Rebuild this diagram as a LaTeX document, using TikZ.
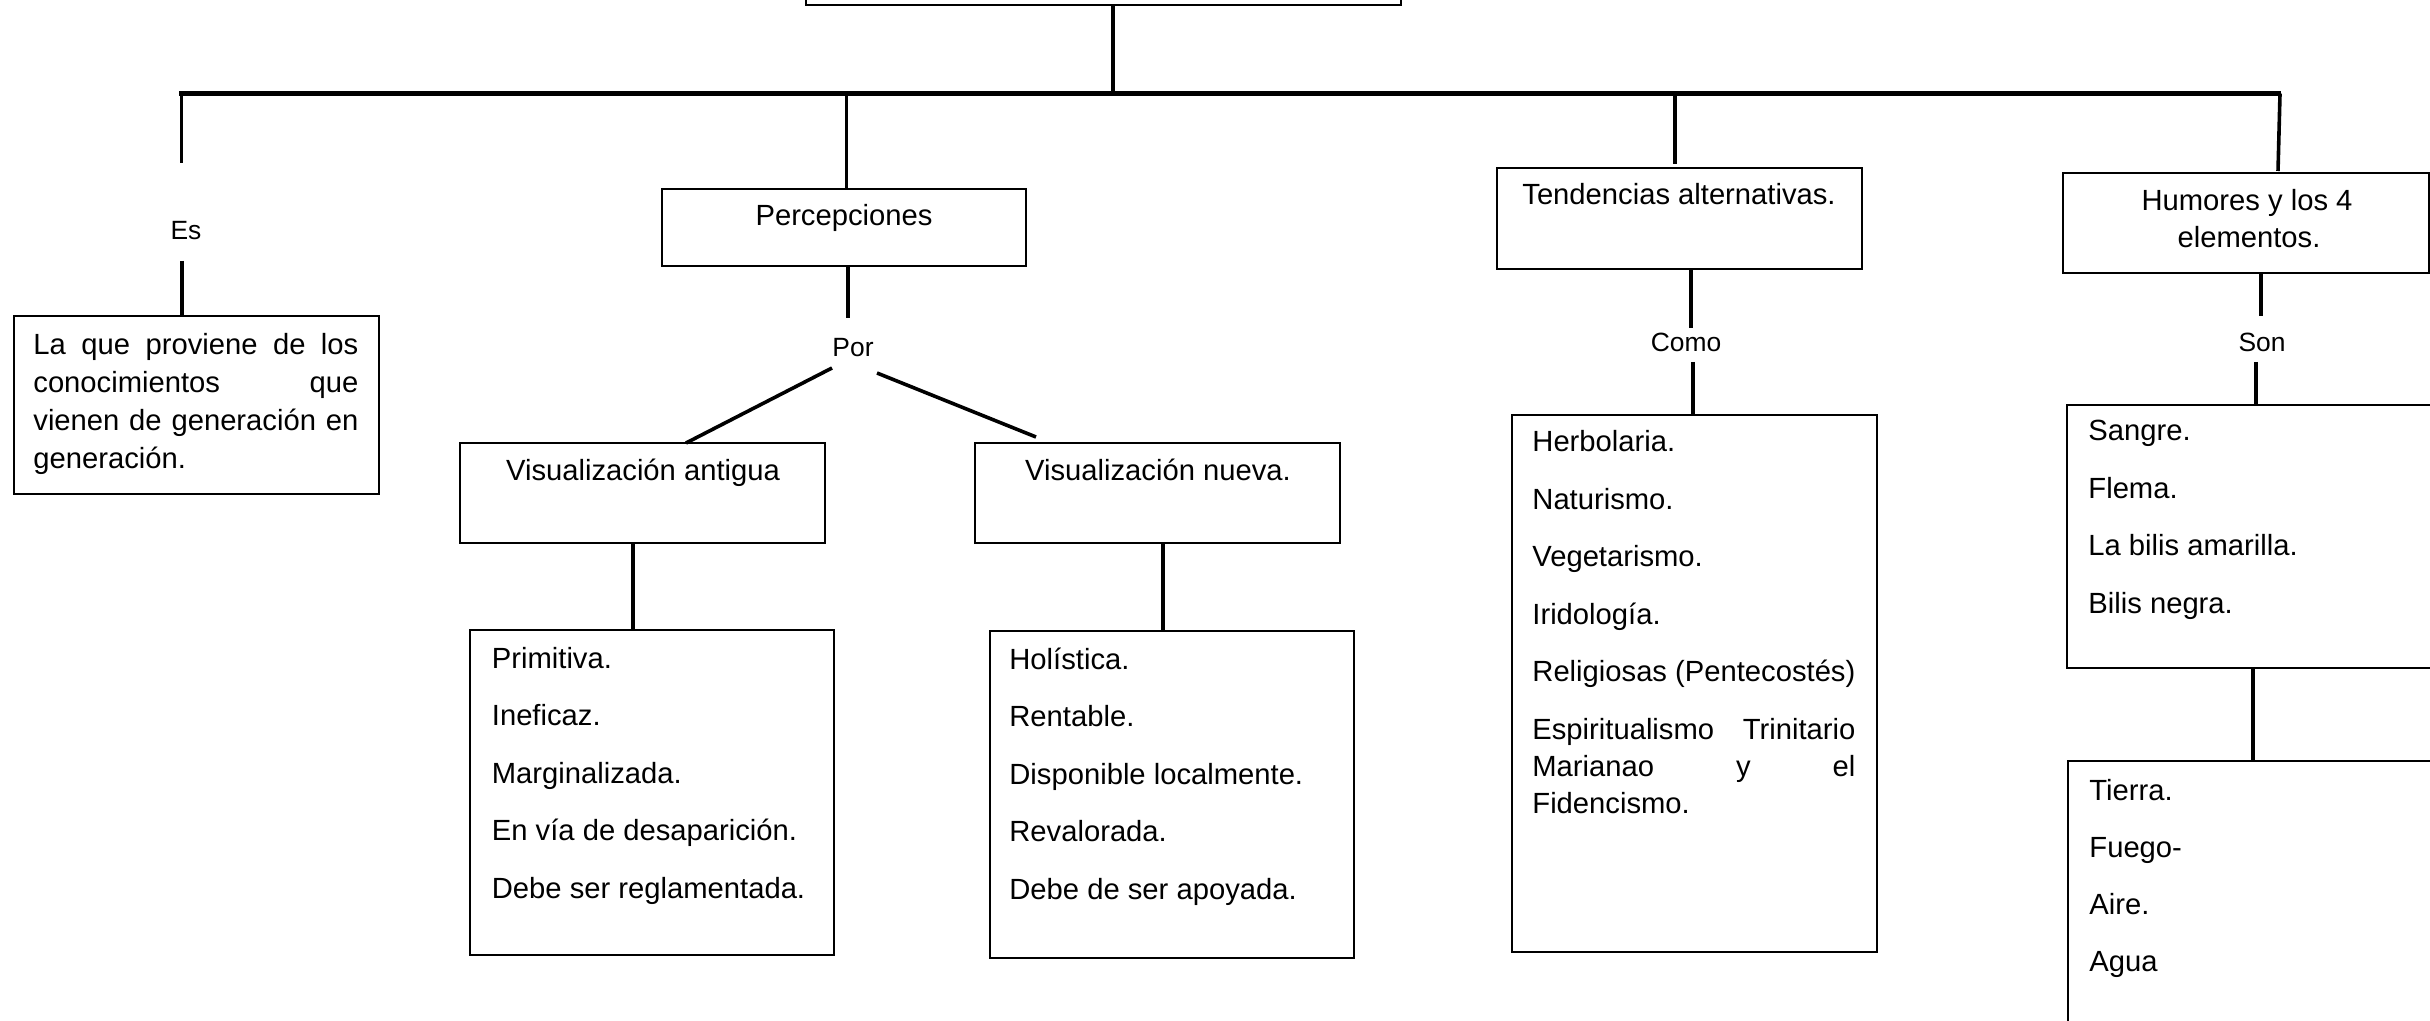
\documentclass[tikz,border=0pt]{standalone}
\usepackage{fontspec}
\setmainfont{Liberation Sans}
\newcommand\mainfs{\fontsize{14.6pt}{18.8pt}\selectfont}
\newcommand\labfs{\fontsize{13.2pt}{16pt}\selectfont}
\begin{document}
\begin{tikzpicture}[x=0.5pt,y=-0.5pt,
  box/.style={draw, line width=0.9pt, inner sep=0pt, rectangle},
  conn/.style={line width=1.8pt},
  bar/.style={line width=2.3pt},
  txt/.style={anchor=base west, inner sep=0pt, font=\mainfs},
  ctxt/.style={anchor=base, inner sep=0pt, font=\mainfs},
  lab/.style={anchor=base, inner sep=0pt, font=\labfs}]
\useasboundingbox (0,0) rectangle (2430,1021);

% boxes
\node[box, minimum width=297.5pt, minimum height=17.5pt] (topbox) at (1103.5,-12.5) {};
\node[box, minimum width=182.5pt, minimum height=89pt] (esbox) at (196.5,405) {};
\node[box, minimum width=182pt, minimum height=38.5pt] (percep) at (844,227.5) {};
\node[box, minimum width=182.5pt, minimum height=50pt] (visant) at (642.5,493) {};
\node[box, minimum width=182.5pt, minimum height=50pt] (visnue) at (1157.5,493) {};
\node[box, minimum width=182pt, minimum height=162.5pt] (antlist) at (652,792.5) {};
\node[box, minimum width=182pt, minimum height=163.5pt] (nuelist) at (1172,794.5) {};
\node[box, minimum width=182.5pt, minimum height=50.5pt] (tend) at (1679.5,218.5) {};
\node[box, minimum width=182.5pt, minimum height=268.5pt] (tendlist) at (1694.5,683.5) {};
\node[box, minimum width=183pt, minimum height=50pt] (hum) at (2246,223) {};
\node[box, minimum width=183pt, minimum height=131.5pt] (sang) at (2250,536.5) {};
\node[box, minimum width=183pt, minimum height=139.5pt] (tierra) at (2251,900.5) {};

% box titles
\node[ctxt] (tpercep) at (844,226) {Percepciones};
\node[ctxt] (tvisant) at (643,480.5) {Visualización antigua};
\node[ctxt] (tvisnue) at (1158,480.5) {Visualización nueva.};
\node[ctxt] (ttend) at (1679,205) {Tendencias alternativas.};
\node[ctxt] (thum1) at (2247,210.7) {Humores y los 4};
\node[ctxt] (thum2) at (2249,247.3) {elementos.};

% link labels
\node[lab] (es) at (186,240) {Es};
\node[lab] (por) at (853,356.5) {Por};
\node[lab] (como) at (1686,351.5) {Como};
\node[lab] (son) at (2262,351.5) {Son};

% Es paragraph
\node[txt] (es1) at (33,355) {\makebox[162.5pt][s]{La que proviene de los}};
\node[txt] (es2) at (33,392.7) {\makebox[162.5pt][s]{conocimientos que}};
\node[txt] (es3) at (33,430.4) {\makebox[162.5pt][s]{vienen de generación en}};
\node[txt] (es4) at (33,468) {generación.};

% lists
\foreach \t [count=\i] in {Primitiva.,Ineficaz.,Marginalizada.,En vía de desaparición.,Debe ser reglamentada.}
  \node[txt] (ant\i) at (491.5,{668+57.5*(\i-1)}) {\t};
\foreach \t [count=\i] in {Holística.,Rentable.,Disponible localmente.,Revalorada.,Debe de ser apoyada.}
  \node[txt] (nue\i) at (1009,{669+57.5*(\i-1)}) {\t};
\foreach \t [count=\i] in {Herbolaria.,Naturismo.,Vegetarismo.,Iridología.,Religiosas (Pentecostés)}
  \node[txt] (ten\i) at (1532,{451.7+57.5*(\i-1)}) {\t};
\node[txt] (ten6) at (1532,739.3) {\makebox[161.5pt][s]{Espiritualismo Trinitario}};
\node[txt] (ten7) at (1532,776.3) {\makebox[161.5pt][s]{Marianao y el}};
\node[txt] (ten8) at (1532,813.3) {Fidencismo.};
\foreach \t [count=\i] in {Sangre.,Flema.,La bilis amarilla.,Bilis negra.}
  \node[txt] (san\i) at (2088,{440.5+57.5*(\i-1)}) {\t};
\foreach \t [count=\i] in {Tierra.,Fuego-,Aire.,Agua}
  \node[txt] (tie\i) at (2089,{800+57.3*(\i-1)}) {\t};

% connector coordinates
\coordinate (b0) at (179,93.5);
\coordinate (b1) at (2281,93.5);
\coordinate (sTop) at (1113,93.5);
\coordinate (sEs) at (181.5,93.5);
\coordinate (esA) at (181.5,163);
\coordinate (esB) at (182,261);
\coordinate (sPer) at (846.5,93.5);
\coordinate (porA) at (848,318);
\coordinate (porL) at (832,368);
\coordinate (antT) at (686,443);
\coordinate (porR) at (877,373);
\coordinate (nueT) at (1036,437);
\coordinate (antX) at (633,0);
\coordinate (nueX) at (1163,0);
\coordinate (sTen) at (1675,93.5);
\coordinate (tenA) at (1675,164);
\coordinate (comA) at (1691,328);
\coordinate (comB) at (1693,362);
\coordinate (sHum) at (2280,93.5);
\coordinate (humT) at (2278,171);
\coordinate (sonA) at (2261,316);
\coordinate (sonB) at (2256,362);
\coordinate (tiX) at (2253,0);

% connectors
\draw[bar] (b0) -- (b1);
\draw[conn] (topbox.south -| sTop) -- (sTop);
\draw[conn] (sEs) -- (esA);
\draw[conn] (esB) -- (esbox.north -| esB);
\draw[conn] (sPer) -- (percep.north -| sPer);
\draw[conn] (percep.south -| porA) -- (porA);
\draw[conn] (porL) -- (antT);
\draw[conn] (porR) -- (nueT);
\draw[conn] (visant.south -| antX) -- (antlist.north -| antX);
\draw[conn] (visnue.south -| nueX) -- (nuelist.north -| nueX);
\draw[conn] (sTen) -- (tenA);
\draw[conn] (tend.south -| comA) -- (comA);
\draw[conn] (comB) -- (tendlist.north -| comB);
\draw[conn] (sHum) -- (humT);
\draw[conn] (hum.south -| sonA) -- (sonA);
\draw[conn] (sonB) -- (sang.north -| sonB);
\draw[conn] (sang.south -| tiX) -- (tierra.north -| tiX);
\end{tikzpicture}
\end{document}
